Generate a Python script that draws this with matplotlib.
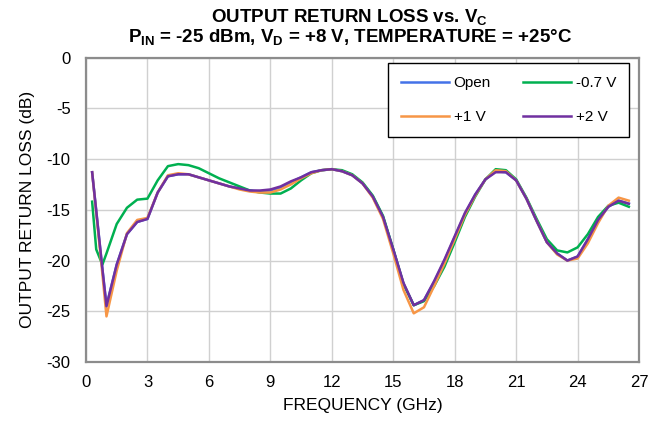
import matplotlib
matplotlib.use('Agg')
import matplotlib.pyplot as plt

plt.rcParams['font.family'] = ['Liberation Sans', 'DejaVu Sans']
plt.rcParams['mathtext.fontset'] = 'custom'
plt.rcParams['mathtext.rm'] = 'Liberation Sans'
plt.rcParams['mathtext.bf'] = 'Liberation Sans:bold'
plt.rcParams['axes.unicode_minus'] = False

# frequency points (GHz)
freq = [0.3, 0.5, 0.8, 1.0, 1.5, 2.0, 2.5, 3.0, 3.5, 4.0, 4.5, 5.0, 5.5, 6.0, 6.5,
        7.0, 7.5, 8.0, 8.5, 9.0, 9.5, 10.0, 10.5, 11.0, 11.5, 12.0, 12.5, 13.0,
        13.5, 14.0, 14.5, 15.0, 15.5, 16.0, 16.5, 17.0, 17.5, 18.0, 18.5, 19.0,
        19.5, 20.0, 20.5, 21.0, 21.5, 22.0, 22.5, 23.0, 23.5, 24.0, 24.5, 25.0,
        25.5, 26.0, 26.5]

# output return loss (dB)
rl_open = [-11.3, -15.1, -20.8, -24.4, -20.4, -17.4, -16.2, -15.9, -13.3, -11.7, -11.5,
           -11.5, -11.8, -12.1, -12.4, -12.7, -12.9, -13.1, -13.2, -13.1, -12.8, -12.3,
           -11.8, -11.3, -11.1, -11.0, -11.2, -11.6, -12.4, -13.7, -15.7, -18.9, -22.3,
           -24.4, -23.9, -22.1, -20.0, -17.7, -15.4, -13.5, -12.0, -11.2, -11.3, -12.1,
           -13.9, -16.1, -18.2, -19.3, -20.0, -19.6, -17.9, -16.0, -14.7, -14.1, -14.4]
rl_m07 = [-14.2, -18.9, -20.4, -19.3, -16.4, -14.8, -14.0, -13.9, -12.1, -10.7, -10.5,
          -10.6, -10.9, -11.4, -11.9, -12.3, -12.7, -13.1, -13.3, -13.4, -13.4, -12.9,
          -12.1, -11.4, -11.1, -11.0, -11.1, -11.5, -12.3, -13.6, -15.6, -18.9, -22.3,
          -24.4, -24.0, -22.5, -20.6, -18.2, -15.7, -13.7, -12.0, -11.0, -11.1, -12.0,
          -13.8, -15.9, -17.9, -19.0, -19.2, -18.7, -17.4, -15.7, -14.6, -14.3, -14.7]
rl_p1 = [-11.3, -15.3, -21.3, -25.5, -21.0, -17.3, -16.0, -15.8, -13.3, -11.6, -11.4,
         -11.5, -11.8, -12.1, -12.4, -12.7, -13.0, -13.2, -13.3, -13.3, -13.0, -12.5,
         -11.9, -11.4, -11.1, -11.0, -11.2, -11.6, -12.4, -13.8, -15.9, -19.3, -22.9,
         -25.2, -24.6, -22.5, -20.3, -17.9, -15.5, -13.6, -12.0, -11.1, -11.2, -12.1,
         -13.9, -16.1, -18.2, -19.4, -20.0, -19.8, -18.3, -16.3, -14.6, -13.8, -14.1]
rl_p2 = [-11.3, -15.1, -20.8, -24.5, -20.4, -17.4, -16.2, -15.9, -13.3, -11.7, -11.5,
         -11.5, -11.8, -12.1, -12.4, -12.7, -12.9, -13.1, -13.1, -13.0, -12.7, -12.2,
         -11.8, -11.3, -11.1, -11.0, -11.2, -11.6, -12.4, -13.7, -15.7, -18.9, -22.2,
         -24.4, -23.9, -22.0, -19.9, -17.6, -15.3, -13.5, -12.0, -11.3, -11.3, -12.1,
         -13.9, -16.1, -18.2, -19.3, -20.0, -19.6, -17.9, -16.0, -14.7, -14.1, -14.4]

x_ticks = [0, 3, 6, 9, 12, 15, 18, 21, 24, 27]
y_ticks = [0, -5, -10, -15, -20, -25, -30]

fig = plt.figure(figsize=(6.65, 4.22), dpi=100)
ax = fig.add_axes([0.1293, 0.142, 0.8317, 0.7217])

ax.plot(freq, rl_open, color='#4472E8', lw=1.8, label='Open')
ax.plot(freq, rl_m07, color='#00B050', lw=1.8, label='-0.7 V')
ax.plot(freq, rl_p1, color='#F79646', lw=1.8, label='+1 V')
ax.plot(freq, rl_p2, color='#7030A0', lw=1.8, label='+2 V')

ax.set_xlim(0, 27)
ax.set_ylim(-30, 0)
ax.set_xticks(x_ticks)
ax.set_yticks(y_ticks)
ax.tick_params(axis='x', length=0, labelsize=12, pad=9)
ax.tick_params(axis='y', length=0, labelsize=12, pad=11)
ax.grid(True, color='#D0D0D0', lw=1)
ax.set_axisbelow(True)
for s in ax.spines.values():
    s.set_color('#8C8C8C')
    s.set_linewidth(1.6)

ax.set_xlabel('FREQUENCY (GHz)', fontsize=12.5, labelpad=6)
ax.set_ylabel('OUTPUT RETURN LOSS (dB)', fontsize=12.5, labelpad=8)

fig.text(0.525, 1 - 23 / 422, r'OUTPUT RETURN LOSS vs. V$_{\mathbf{C}}$', ha='center',
         va='baseline', fontsize=13.5, fontweight='bold')
fig.text(0.527, 1 - 43 / 422, r'P$_{\mathbf{IN}}$ = -25 dBm, V$_{\mathbf{D}}$ = +8 V, TEMPERATURE = +25°C',
         ha='center', va='baseline', fontsize=13.5, fontweight='bold')

h, l = ax.get_legend_handles_labels()
order = [0, 2, 1, 3]
leg = ax.legend([h[i] for i in order], [l[i] for i in order], ncol=2, loc='upper right',
                bbox_to_anchor=(0.982, 0.982), fontsize=11, fancybox=False, framealpha=1,
                edgecolor='black', handlelength=3.15, labelspacing=1.3, columnspacing=2.1,
                borderpad=0.85, handletextpad=0.3, borderaxespad=0)
leg.get_frame().set_linewidth(1.0)

fig.savefig('out.png', dpi=100)
